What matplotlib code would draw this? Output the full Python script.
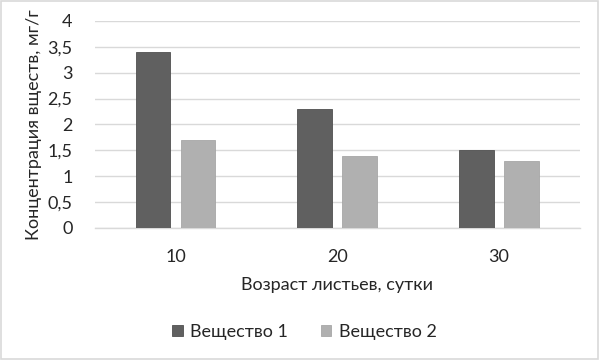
import matplotlib
matplotlib.use('Agg')
import matplotlib.pyplot as plt
import numpy as np
from matplotlib.ticker import FuncFormatter

categories = ['10', '20', '30']
substance1 = [3.4, 2.3, 1.5]
substance2 = [1.7, 1.4, 1.3]
series_labels = ['Вещество 1', 'Вещество 2']

plt.rcParams['font.family'] = ['Lato', 'DejaVu Sans']

fig = plt.figure(figsize=(5.99, 3.6), dpi=100)
ax = fig.add_axes([0.158, 0.3667, 0.81, 0.575])

x = np.arange(len(categories))
w = 0.216
gap = 0.062
off = (w + gap) / 2
ax.bar(x - off, substance1, width=w, color='#606060', edgecolor='#505050',
       linewidth=0.6, label=series_labels[0], zorder=3)
ax.bar(x + off, substance2, width=w, color='#b0b0b0', edgecolor='#a6a6a6',
       linewidth=0.6, label=series_labels[1], zorder=3)

ax.set_xlim(-0.5, len(categories) - 0.5)
ax.set_ylim(0, 4)
ax.set_yticks(np.arange(0, 4.01, 0.5))
ax.yaxis.set_major_formatter(FuncFormatter(
    lambda v, p: ('%g' % v).replace('.', ',')))
ax.set_xticks(x)
ax.set_xticklabels(categories)
ax.grid(axis='y', color='#d9d9d9', linewidth=1.0, zorder=0)
for s in ['top', 'right', 'left']:
    ax.spines[s].set_visible(False)
ax.spines['bottom'].set_color('#d9d9d9')
ax.spines['bottom'].set_linewidth(1.0)
ax.tick_params(length=0, labelsize=13, colors='#262626')
ax.tick_params(axis='x', pad=15)
ax.tick_params(axis='y', pad=16)

ax.set_xlabel('Возраст листьев, сутки', fontsize=13, color='#262626',
              labelpad=9)
ax.set_ylabel('Концентрация вществ, мг/г', fontsize=13, color='#262626',
              labelpad=4)

fig.legend(loc='center', bbox_to_anchor=(0.508, 0.078), ncol=2, frameon=False,
           fontsize=13, handlelength=0.6, handleheight=0.6, columnspacing=1.8,
           handletextpad=0.4, labelcolor='#262626')

fig.patches.append(plt.Rectangle((0.002, 0.003), 0.996, 0.994,
                                 transform=fig.transFigure, fill=False,
                                 edgecolor='#d9d9d9', linewidth=1.2))

fig.savefig('out.png', dpi=100)
